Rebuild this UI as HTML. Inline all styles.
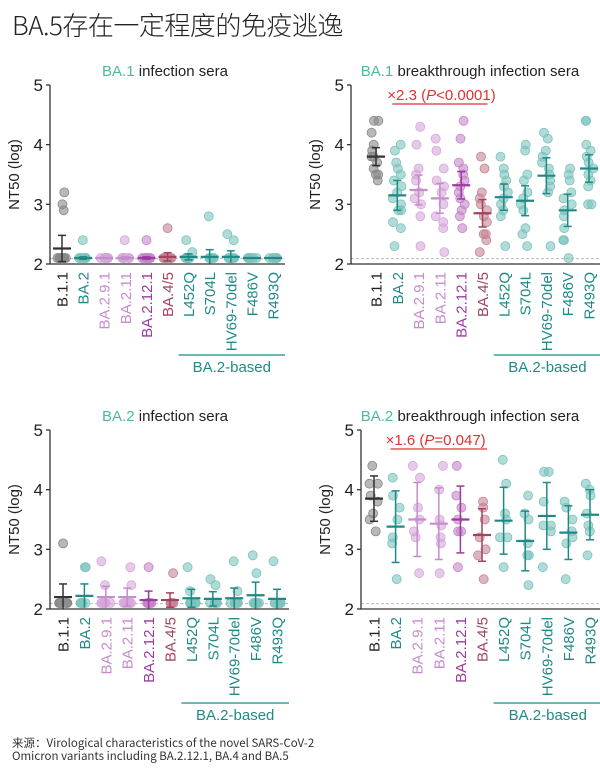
<!DOCTYPE html>
<html><head><meta charset="utf-8">
<style>
html,body{margin:0;padding:0;background:#fff;}
body{width:600px;height:773px;overflow:hidden;position:relative;font-family:"Liberation Sans","Noto Sans CJK SC",sans-serif;}
#title{position:absolute;left:12px;top:6px;font-size:26px;color:#222;font-family:"Noto Sans CJK SC","Liberation Sans",sans-serif;font-weight:300;letter-spacing:-0.5px;}
#foot{position:absolute;left:12px;top:737px;font-size:11.5px;line-height:13px;color:#333;font-family:"Noto Sans CJK SC","Liberation Sans",sans-serif;}
svg{position:absolute;left:0;top:0;}
</style></head><body>
<div id="title">BA.5存在一定程度的免疫逃逸</div>
<div id="foot">来源：Virological characteristics of the novel SARS-CoV-2<br>Omicron variants including BA.2.12.1, BA.4 and BA.5</div>
<svg id="s" width="600" height="773" xmlns="http://www.w3.org/2000/svg"></svg>
<script>
var S=document.getElementById('s'),h='';
var names=['B.1.1','BA.2','BA.2.9.1','BA.2.11','BA.2.12.1','BA.4/5','L452Q','S704L','HV69-70del','F486V','R493Q'];
var dark=['#333','#1f8a85','#c58ccb','#c58ccb','#9c3aa0','#a2435f','#1f8a85','#1f8a85','#1f8a85','#1f8a85','#1f8a85'];
var lite=['#888','#7cc3bc','#d6a6da','#d6a6da','#c685c9','#c58595','#7cc3bc','#7cc3bc','#7cc3bc','#7cc3bc','#7cc3bc'];
var lab=['#222','#1f8a85','#c58ccb','#c58ccb','#9c3aa0','#a2435f','#1f8a85','#1f8a85','#1f8a85','#1f8a85','#1f8a85'];
var seed=7;function rnd(){seed=(seed*16807)%2147483647;return seed/2147483647;}
function panel(o){
 var ax=o.ax,y5=o.y5,y2=o.y2,u=(y2-y5)/3;
 function Y(v){return y2-(v-2)*u;}
 var xr=o.x0+o.dx*10+12;
 h+='<text x="'+o.tx+'" y="'+(y5-9)+'" font-size="15" text-anchor="middle" fill="#222"><tspan fill="#4db8a4">'+o.t1+'</tspan> '+o.t2+'</text>';
 h+='<line x1="'+ax+'" x2="'+xr+'" y1="'+Y(2.09)+'" y2="'+Y(2.09)+'" stroke="#bbb" stroke-dasharray="3,2" stroke-width="1"/>';
 for(var i=0;i<11;i++){
  var x=o.x0+i*o.dx,d=o.data[i];
  for(var k=0;k<d.pts.length;k++){var jx=(d.pts.length>1?(rnd()-0.5)*9:0);
   h+='<circle cx="'+(x+jx).toFixed(1)+'" cy="'+Y(d.pts[k]).toFixed(1)+'" r="4.5" fill="'+lite[i]+'" fill-opacity="0.6" stroke="'+lite[i]+'" stroke-width="0.8"/>';}
  var c=dark[i];
  h+='<line x1="'+x+'" x2="'+x+'" y1="'+Y(d.m+d.e)+'" y2="'+Y(Math.max(2,d.m-d.e))+'" stroke="'+c+'" stroke-width="1.5"/>';
  h+='<line x1="'+(x-4)+'" x2="'+(x+4)+'" y1="'+Y(d.m+d.e)+'" y2="'+Y(d.m+d.e)+'" stroke="'+c+'" stroke-width="1.5"/>';
  if(d.m-d.e>2.02)h+='<line x1="'+(x-4)+'" x2="'+(x+4)+'" y1="'+Y(d.m-d.e)+'" y2="'+Y(d.m-d.e)+'" stroke="'+c+'" stroke-width="1.5"/>';
  h+='<line x1="'+(x-9)+'" x2="'+(x+9)+'" y1="'+Y(d.m)+'" y2="'+Y(d.m)+'" stroke="'+c+'" stroke-width="2.2"/>';
  h+='<text transform="translate('+(x+5.5)+','+(y2+8)+') rotate(-90)" font-size="15" text-anchor="end" fill="'+lab[i]+'">'+names[i]+'</text>';
 }
 h+='<line x1="'+ax+'" x2="'+ax+'" y1="'+y5+'" y2="'+y2+'" stroke="#333" stroke-width="1.3"/>';
 h+='<line x1="'+ax+'" x2="'+xr+'" y1="'+y2+'" y2="'+y2+'" stroke="#333" stroke-width="1.3"/>';
 for(var v=2;v<=5;v++){h+='<line x1="'+(ax-4)+'" x2="'+ax+'" y1="'+Y(v)+'" y2="'+Y(v)+'" stroke="#333" stroke-width="1.3"/>';
  h+='<text x="'+(ax-7)+'" y="'+(Y(v)+6)+'" font-size="17" text-anchor="end" fill="#222">'+v+'</text>';}
 h+='<text transform="translate('+(ax-31)+','+Y(3.5)+') rotate(-90)" font-size="15" text-anchor="middle" fill="#222">NT50 (log)</text>';
 var bx1=o.x0+6*o.dx-10,bx2=o.x0+10*o.dx+12;
 h+='<line x1="'+bx1+'" x2="'+bx2+'" y1="'+o.by+'" y2="'+o.by+'" stroke="#1f8a85" stroke-width="1.2"/>';
 h+='<text x="'+((bx1+bx2)/2)+'" y="'+(o.by+17)+'" font-size="15" text-anchor="middle" fill="#1f8a85">BA.2-based</text>';
 if(o.red){var r1=o.x0+o.dx-5,r2=o.x0+5*o.dx+5;
  h+='<line x1="'+r1+'" x2="'+r2+'" y1="'+(y5+19)+'" y2="'+(y5+19)+'" stroke="#e03030" stroke-width="1.3"/>';
  h+='<text x="'+(r1-5)+'" y="'+(y5+15)+'" font-size="15" fill="#e03030">×'+o.red[0]+' (<tspan font-style="italic">P</tspan>'+o.red[1]+')</text>';}
}
function L(pts,m,e){return {pts:pts,m:m,e:e};}
var base=[2.1,2.1,2.1,2.1,2.1,2.1,2.1,2.1];
panel({ax:50,y5:85,y2:264,x0:62,dx:21.1,by:355,tx:165,t1:'BA.1',t2:'infection sera',data:[
 L(base.concat([3.2,3.0,2.9]),2.26,0.22),L(base.concat([2.4]),2.1,0.02),L(base,2.1,0),L(base.concat([2.4]),2.1,0.02),L(base.concat([2.4]),2.1,0.02),
 L(base.concat([2.6]),2.12,0.07),L(base.concat([2.4,2.2]),2.12,0.05),L(base.concat([2.8]),2.12,0.12),L(base.concat([2.5,2.4]),2.12,0.1),L(base,2.1,0),L(base,2.1,0)]});
panel({ax:351,y5:85,y2:264,x0:376,dx:21.3,by:355,tx:470,t1:'BA.1',t2:'breakthrough infection sera',red:['2.3','<0.0001'],data:[
 L([4.4,4.4,4.2,4.0,3.9,3.8,3.7,3.6,3.5,3.5,3.4,3.8],3.8,0.15),L([4.0,3.9,3.7,3.5,3.4,3.2,3.1,3.0,2.9,2.9,2.7,2.6,2.3,3.3,3.6],3.15,0.25),
 L([4.3,4.0,3.5,3.4,3.2,3.1,3.0,2.8,2.3,3.6],3.24,0.25),L([4.1,3.9,3.6,3.4,3.2,3.0,2.8,2.7,2.6,2.2,3.3],3.1,0.25),
 L([4.4,4.1,3.7,3.5,3.4,3.3,3.2,3.1,3.0,2.9,2.8,2.6,3.6],3.32,0.23),L([3.8,3.6,3.2,3.1,3.0,2.9,2.7,2.5,2.5,2.4,2.2,2.8],2.85,0.23),
 L([3.8,3.6,3.5,3.4,3.2,3.1,3.0,2.9,2.8,2.3,3.3],3.12,0.22),L([4.0,3.9,3.5,3.4,3.2,3.0,2.9,2.6,2.5,2.3,3.1],3.06,0.25),
 L([4.2,4.1,3.9,3.8,3.6,3.5,3.4,3.3,3.2,2.3,3.7],3.48,0.3),L([3.6,3.5,3.4,3.2,3.1,2.9,2.8,2.6,2.4,2.4,2.1,3.0],2.9,0.27),
 L([4.4,4.4,4.0,3.9,3.8,3.7,3.6,3.5,3.4,3.0,3.0,3.3],3.6,0.23)]});
var b2=[2.1,2.1,2.1,2.1,2.1,2.1];
panel({ax:50,y5:430,y2:609,x0:63,dx:21.4,by:703,tx:165,t1:'BA.2',t2:'infection sera',data:[
 L(b2.concat([3.1]),2.2,0.22),L(b2.concat([2.7,2.7]),2.22,0.2),L(b2.concat([2.8,2.4]),2.2,0.18),L(b2.concat([2.7,2.4]),2.2,0.15),L(b2.concat([2.7]),2.15,0.15),
 L(b2.concat([2.6]),2.15,0.12),L(b2.concat([2.7,2.3]),2.18,0.15),L(b2.concat([2.5,2.4]),2.17,0.12),L(b2.concat([2.8,2.3]),2.18,0.17),L(b2.concat([2.9,2.6]),2.23,0.22),L(b2.concat([2.8]),2.17,0.16)]});
panel({ax:361,y5:430,y2:609,x0:374,dx:21.6,by:703,tx:470,t1:'BA.2',t2:'breakthrough infection sera',red:['1.6','=0.047'],data:[
 L([4.4,4.1,4.1,3.9,3.6,3.5,3.3,3.8],3.85,0.38),L([4.2,3.9,3.7,3.5,3.2,3.1,2.5],3.38,0.6),L([4.4,4.2,3.7,3.5,3.3,3.2,2.6],3.5,0.62),
 L([4.4,4.0,3.5,3.4,3.2,3.1,2.6],3.43,0.6),L([4.4,3.9,3.7,3.5,3.3,3.3,2.7],3.5,0.56),L([3.8,3.7,3.5,3.2,3.0,2.9,2.5],3.24,0.44),
 L([4.5,4.1,3.6,3.5,3.2,3.2,2.7],3.48,0.56),L([3.9,3.6,3.5,3.1,2.9,2.9,2.4],3.14,0.5),L([4.3,4.3,3.8,3.4,3.3,3.4,2.7],3.56,0.56),
 L([3.8,3.7,3.5,3.3,3.2,3.1,2.5],3.28,0.45),L([4.1,4.0,3.9,3.6,3.4,3.3,2.9],3.58,0.42)]});
S.innerHTML=h;
</script>
</body></html>
